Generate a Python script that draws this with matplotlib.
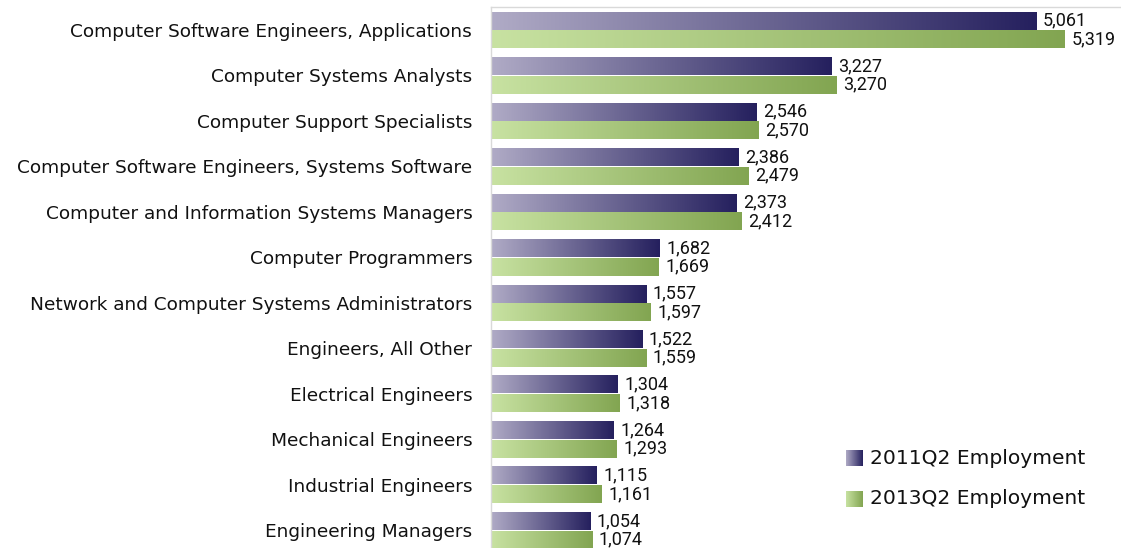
import numpy as np
import matplotlib.pyplot as plt
from matplotlib.colors import LinearSegmentedColormap

# ===== DATA =====
occupations = [
    "Computer Software Engineers, Applications",
    "Computer Systems Analysts",
    "Computer Support Specialists",
    "Computer Software Engineers, Systems Software",
    "Computer and Information Systems Managers",
    "Computer Programmers",
    "Network and Computer Systems Administrators",
    "Engineers, All Other",
    "Electrical Engineers",
    "Mechanical Engineers",
    "Industrial Engineers",
    "Engineering Managers",
]
emp_2011 = [5061, 3227, 2546, 2386, 2373, 1682, 1557, 1522, 1304, 1264, 1115, 1054]
emp_2013 = [5319, 3270, 2570, 2479, 2412, 1669, 1597, 1559, 1318, 1293, 1161, 1074]
series_names = ["2011Q2 Employment", "2013Q2 Employment"]

# ===== COLOURS (gradient light -> dark) =====
cmap_2011 = LinearSegmentedColormap.from_list("c11", ["#B0ABC6", "#25205E"])
cmap_2013 = LinearSegmentedColormap.from_list("c13", ["#C8E2A2", "#82A551"])
grad = np.linspace(0, 1, 256).reshape(1, -1)

W, H = 1121, 548
fig = plt.figure(figsize=(W / 100, H / 100), dpi=100)

# axes: left 491px, top 7px, extends beyond right and bottom edge
ax_l, ax_t, ax_r, ax_b = 491, 7, 1130, 553
ax = fig.add_axes([ax_l / W, 1 - ax_b / H, (ax_r - ax_l) / W, (ax_b - ax_t) / H])

y = np.arange(len(occupations))
bh = 0.395
off = 0.205
x0_axis = 164                      # axis does not start at zero
xmax = x0_axis + (ax_r - ax_l) / 0.1113

bars_a = ax.barh(y - off, emp_2011, height=bh, color="none", edgecolor="none")
bars_b = ax.barh(y + off, emp_2013, height=bh, color="none", edgecolor="none")

for bars, cmap in [(bars_a, cmap_2011), (bars_b, cmap_2013)]:
    for b in bars:
        w, h = b.get_width(), b.get_height()
        ax.imshow(grad, cmap=cmap, aspect="auto",
                  extent=[x0_axis, w, b.get_y(), b.get_y() + h], zorder=2,
                  interpolation="bilinear")

for i in range(len(occupations)):
    ax.text(emp_2011[i] + 60, y[i] - off, f"{emp_2011[i]:,}", va="center",
            ha="left", fontsize=13, family="Roboto", color="#111111")
    ax.text(emp_2013[i] + 60, y[i] + off, f"{emp_2013[i]:,}", va="center",
            ha="left", fontsize=13, family="Roboto", color="#111111")

ax.set_xlim(x0_axis, xmax)
ax.set_ylim(len(occupations) - 0.5, -0.505)
ax.set_yticks(y)
ax.set_yticklabels(occupations, fontsize=13.3, family="DejaVu Sans", color="#111111")
ax.tick_params(axis="y", length=0, pad=13.5)
ax.set_xticks([])
for s in ["right", "bottom"]:
    ax.spines[s].set_visible(False)
for s in ["top", "left"]:
    ax.spines[s].set_color("#D9D9D9")
    ax.spines[s].set_linewidth(1)

# ===== LEGEND (gradient squares) =====
for k, (name, cmap) in enumerate(zip(series_names, [cmap_2011, cmap_2013])):
    cy = 458 + k * 41
    sq = fig.add_axes([846 / W, 1 - (cy + 8) / H, 17 / W, 16 / H])
    sq.imshow(grad, cmap=cmap, aspect="auto", interpolation="bilinear")
    sq.axis("off")
    fig.text(870 / W, 1 - cy / H, name, fontsize=14.6, family="DejaVu Sans",
             va="center", ha="left", color="#111111")

fig.savefig("out.png", dpi=100)
